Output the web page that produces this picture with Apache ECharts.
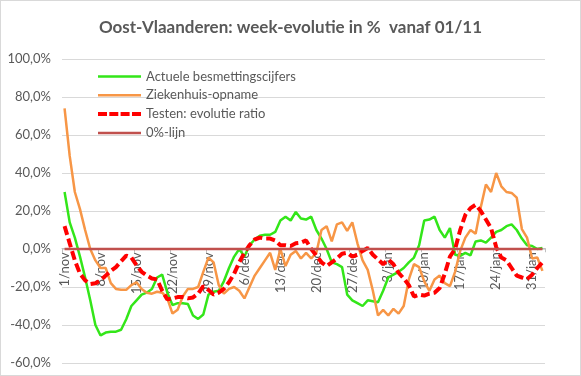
<!DOCTYPE html>
<html>
<head>
<meta charset="utf-8">
<script src="https://cdn.jsdelivr.net/npm/echarts@6/dist/echarts.min.js"></script>
<style>
  html, body { margin: 0; padding: 0; background: #fff; }
  #chart { width: 581px; height: 376px; box-sizing: border-box; border: 1px solid #d9d9d9; }
</style>
</head>
<body>
<div id="chart"></div>
<script>
// dagen 1/nov t/m 2/feb
const months = [['nov', 30], ['dec', 31], ['jan', 31], ['feb', 2]];
const categories = [];
months.forEach(([m, n]) => { for (let d = 1; d <= n; d++) categories.push(d + '/' + m); });

// week-evolutie in %
const besmettingen = [
  30, 14, 6, -4, -15, -27, -40, -45.5, -44, -43.5,
  -43.5, -42.5, -37, -30, -27, -24, -23, -21, -15, -13.5,
  -23, -29.5, -28.5, -28.5, -29, -35, -36.8, -34.5, -24, -22.5,
  -22, -17, -10, -4, 0, -4, 2, 5, 7, 7.5,
  7.5, 9, 15, 17, 15, 19.5, 16, 15.5, 17, 10,
  5.5, 0, -7, -8, -9.5, -24, -27, -28.5, -30, -27,
  -27.5, -28, -22, -15, -13.5, -12, -10, -7, -4.5, 2,
  15, 15.5, 17, 10, 6, 11, -3, -3.6, -2, -3.3,
  4, 4.5, 3.3, 6, 9, 10, 12, 13, 10, 5.5,
  2, 1.6, 0, 0.5
];
const ziekenhuis = [
  74, 49, 30, 21, 10, 0, -6, -10, -10, -18,
  -21, -21.5, -21.5, -19, -17.5, -21, -23, -23.5, -22.5, -23,
  -26, -34, -32, -25, -21, -21, -20, -12, -4.5, -7,
  -19, -23.5, -21, -20, -22, -26, -20, -14, -10, -6,
  -2, -11, 0, -9, -3, -1, -5, -2, -5, -2,
  10, 12, 4, 13, 14, 9.5, 14, 3, -6, -11,
  -22, -35, -32, -35, -31.5, -34, -30, -16, -8, -9.5,
  -17, -22, -16, -14, -18, -19.5, -12, -1, 6, 10,
  8, 22, 34, 30, 40, 33, 30, 29.5, 27, 10.5,
  6, -5, -4.5, -11.5
];
const testRatio = [
  12, 3, -6, -13, -16.5, -18.4, -18, -16.5, -14, -11.5,
  -9.5, -6.5, -3.5, -4.5, -8.5, -12, -14, -15.5, -16, -22,
  -26.5, -26, -25.3, -25.3, -26, -25.5, -23.5, -19.5, -21.5, -24,
  -23, -21, -17.5, -13, -7, -2, 2, 5, 6, 5.5,
  5.5, 4.5, 2, 2, 1.6, 3, 3.3, 4.5, 0, -3.5,
  -7, -9, -7, -5, -2.5, -2, -4, -3, -1, 0.5,
  -3, -5.5, -8, -5.5, -8, -12.5, -15.5, -19, -25, -24,
  -24.5, -23.5, -23, -20.5, -13, -4, 0, 10, 18, 21.5,
  23.3, 20, 15.5, 11, 1, -4.5, -6, -10, -14, -15,
  -15.8, -13.5, -10, -7
];
const nulLijn = categories.map(() => 0);

const yMin = -60, yMax = 100;
const font = 'Lato, "Open Sans", sans-serif';
const textColor = '#595959';
const gridTop = 58, gridBottom = 12, chartH = 376;
const gridH = chartH - gridTop - gridBottom;
// x-as kruist de y-as op 0%
const zeroOffset = -gridH * (0 - yMin) / (yMax - yMin);

// legend icons: solid / dashed line inside a 43x4 box
const solidIcon = 'path://M0,0h0.01v0.01h-0.01z M0,0.75h43v2.5h-43z M0,3.99h0.01v0.01h-0.01z';
const dashIcon = 'path://M0,0h9v4h-9z M11.3,0h9v4h-9z M22.6,0h9v4h-9z M34,0h9v4h-9z';

const chart = echarts.init(document.getElementById('chart'));
chart.setOption({
  animation: false,
  title: {
    text: 'Oost-Vlaanderen: week-evolutie in %  vanaf 01/11',
    left: 'center',
    top: 13,
    textStyle: { fontFamily: font, fontSize: 17, fontWeight: 'bold', color: textColor }
  },
  legend: {
    orient: 'vertical',
    left: 92,
    top: 64,
    itemWidth: 43,
    itemHeight: 4,
    itemGap: 5.8,
    itemStyle: { borderWidth: 0 },
    textStyle: { fontFamily: font, fontSize: 13, color: textColor },
    data: [
      { name: 'Actuele besmettingscijfers', icon: solidIcon },
      { name: 'Ziekenhuis-opname', icon: solidIcon },
      { name: 'Testen: evolutie ratio', icon: dashIcon },
      { name: '0%-lijn', icon: solidIcon }
    ]
  },
  grid: { left: 61, right: 35, top: gridTop, bottom: gridBottom, containLabel: false, outerBoundsMode: 'none' },
  xAxis: {
    type: 'category',
    data: categories,
    boundaryGap: true,
    offset: zeroOffset,
    axisLine: { onZero: false, lineStyle: { color: '#bfbfbf' } },
    axisTick: { show: true, interval: 6, length: 4, lineStyle: { color: '#bfbfbf' } },
    axisLabel: { interval: 6, rotate: 90, margin: 4, fontFamily: font, fontSize: 13, color: textColor },
    splitLine: { show: false }
  },
  yAxis: {
    type: 'value',
    min: yMin,
    max: yMax,
    interval: 20,
    axisLine: { show: false },
    axisTick: { show: false },
    axisLabel: {
      margin: 11,
      fontFamily: font, fontSize: 13, color: textColor,
      formatter: v => v.toFixed(1).replace('.', ',') + '%'
    },
    splitLine: { lineStyle: { color: '#d9d9d9', width: 1 } }
  },
  series: [
    {
      name: 'Actuele besmettingscijfers', type: 'line', data: besmettingen,
      symbol: 'none', color: '#33e619', lineStyle: { width: 2.5, color: '#33e619' }
    },
    {
      name: 'Ziekenhuis-opname', type: 'line', data: ziekenhuis,
      symbol: 'none', color: '#f79646', lineStyle: { width: 2.5, color: '#f79646' }
    },
    {
      name: 'Testen: evolutie ratio', type: 'line', data: testRatio,
      symbol: 'none', color: '#ff0000', lineStyle: { width: 4, color: '#ff0000', type: [9, 4] }
    },
    {
      name: '0%-lijn', type: 'line', data: nulLijn,
      symbol: 'none', color: '#c0504d', lineStyle: { width: 2.5, color: '#c0504d' }
    }
  ]
});
</script>
</body>
</html>
